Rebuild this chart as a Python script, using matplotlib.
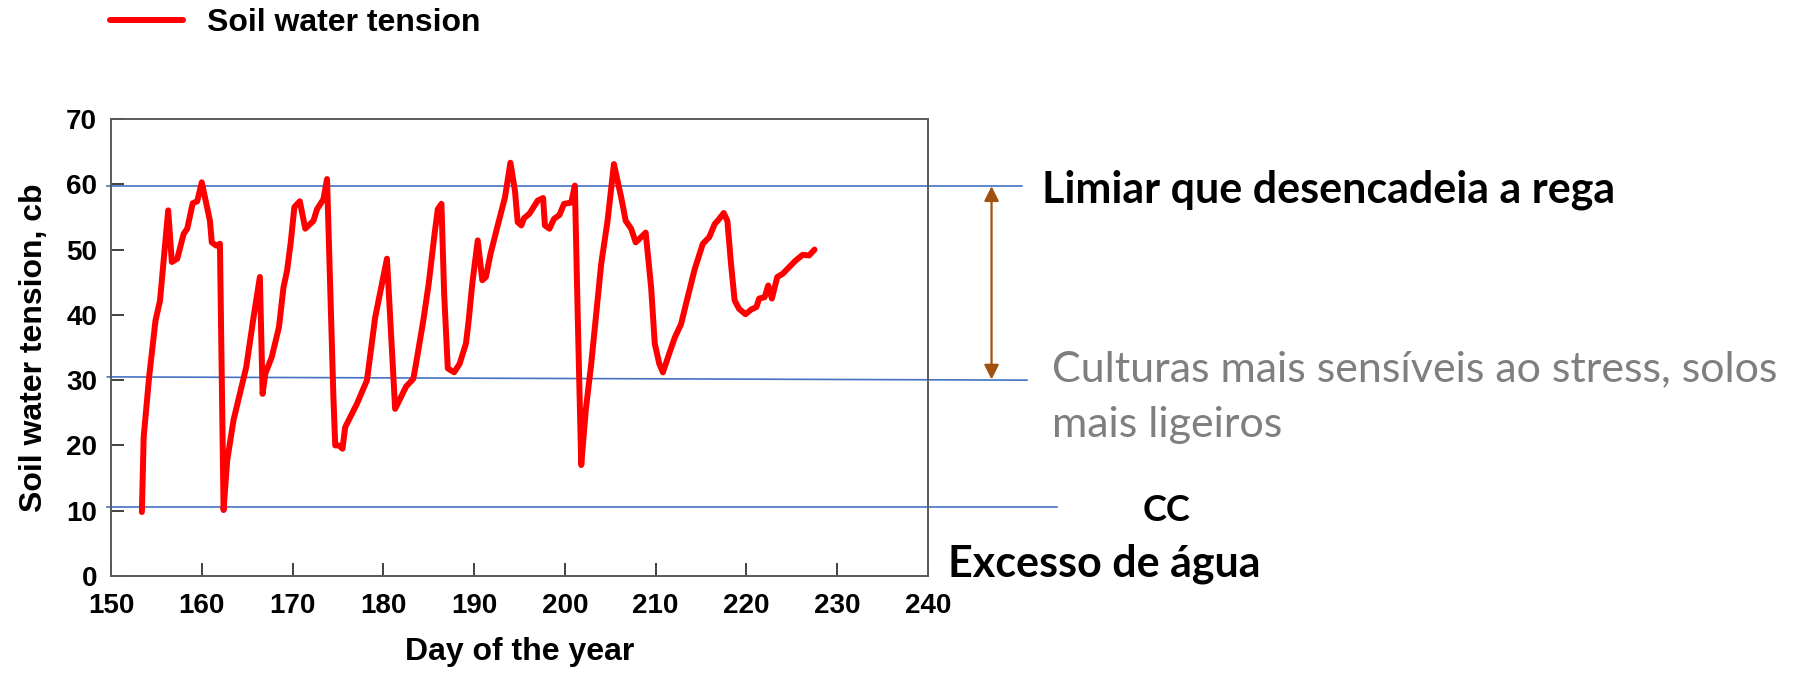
import matplotlib
matplotlib.use('Agg')
import matplotlib.pyplot as plt
from matplotlib.lines import Line2D

plt.rcParams['font.family'] = ['Liberation Sans', 'DejaVu Sans']

# leituras do gráfico (dia do ano, tensão em cb)
days = [153.4, 153.6, 154.2, 154.9, 155.4, 156.3, 156.7, 157.3, 158.0, 158.4,
        159.0, 159.5, 160.0, 160.9, 161.1, 161.6, 162.0, 162.4, 162.8, 163.5,
        164.9, 165.7, 166.4, 166.7, 167.0, 167.7, 168.5, 169.0, 169.4, 169.8,
        170.2, 170.8, 171.4, 172.3, 172.7, 173.4, 173.8, 174.5, 174.7, 175.1,
        175.5, 175.8, 177.1, 178.2, 179.1, 180.4, 181.3, 182.5, 183.3, 183.6,
        184.4, 185.0, 185.6, 186.0, 186.4, 186.7, 187.1, 187.8, 188.4, 189.1,
        189.4, 189.8, 190.4, 190.9, 191.3, 191.8, 192.6, 193.4, 194.0, 194.5,
        194.8, 195.2, 195.5, 196.1, 197.0, 197.6, 197.8, 198.3, 198.8, 199.4,
        199.9, 200.7, 201.1, 201.4, 201.8, 202.3, 202.9, 204.0, 204.7, 205.4,
        206.2, 206.7, 207.3, 207.8, 208.4, 208.9, 209.5, 209.9, 210.4, 210.8,
        211.5, 212.1, 212.8, 213.4, 214.3, 215.2, 215.9, 216.5, 217.0, 217.5,
        217.9, 218.3, 218.7, 219.2, 219.9, 220.5, 221.1, 221.4, 222.0, 222.4,
        222.8, 223.4, 224.0, 224.7, 225.4, 226.2, 226.9, 227.5]
tension = [9.8, 21.3, 30.5, 39.1, 42.2, 56.0, 48.1, 48.6, 52.4, 53.2,
           57.1, 57.4, 60.3, 54.4, 51.1, 50.6, 50.9, 10.1, 17.7, 23.9,
           32.0, 39.6, 45.8, 27.9, 31.0, 33.5, 38.1, 44.2, 46.8, 51.1,
           56.5, 57.4, 53.2, 54.4, 56.2, 57.7, 60.8, 27.4, 20.0, 20.0,
           19.5, 22.8, 26.4, 30.0, 39.6, 48.6, 25.6, 29.0, 30.2, 32.5,
           39.1, 44.8, 51.9, 56.2, 57.0, 43.2, 31.8, 31.2, 32.5, 35.6,
           39.1, 44.8, 51.4, 45.3, 45.8, 49.3, 53.7, 58.0, 63.3, 59.0,
           54.2, 53.7, 54.8, 55.5, 57.5, 57.9, 53.7, 53.2, 54.7, 55.3,
           57.0, 57.2, 59.8, 40.7, 17.0, 25.4, 32.5, 47.8, 54.4, 63.1,
           58.0, 54.4, 53.2, 51.1, 51.9, 52.6, 44.2, 35.6, 32.5, 31.2,
           34.1, 36.5, 38.6, 42.0, 47.0, 50.9, 51.9, 53.9, 54.7, 55.6,
           54.4, 47.8, 42.2, 40.9, 40.1, 40.8, 41.2, 42.5, 42.7, 44.5,
           42.5, 45.8, 46.3, 47.3, 48.3, 49.2, 49.1, 50.0]

# linhas de referência (valores lidos) e até onde se estendem
ref_left = [59.7, 30.5, 10.6]
ref_right = [59.7, 30.0, 10.6]
ref_end = [250.4, 250.9, 254.2]

fig = plt.figure(figsize=(18.09, 6.82), dpi=100)
ax = fig.add_axes([111 / 1809, 1 - 576 / 682, 817 / 1809, 457 / 682])

ax.plot(days, tension, color='#FF0000', lw=4.3, solid_joinstyle='round',
        solid_capstyle='round', zorder=3)

for yl, yr, xe in zip(ref_left, ref_right, ref_end):
    ax.plot([149.6, xe], [yl, yr], color='#4472C4', lw=1.2, clip_on=False, zorder=2)

# seta entre limiar e culturas sensíveis
ax.annotate('', xy=(247.0, 59.7), xytext=(247.0, 30.1), annotation_clip=False,
            arrowprops=dict(arrowstyle='<|-|>', color='#A0500F', lw=1.6,
                            mutation_scale=22, shrinkA=0, shrinkB=0))

ax.set_xlim(150, 240)
ax.set_ylim(0, 70)
ax.set_xticks(range(150, 241, 10))
ax.set_yticks(range(0, 71, 10))
ax.tick_params(axis='both', direction='in', length=9.5, width=1.3, color='#333333',
               labelsize=20)
ax.tick_params(axis='x', pad=12)
ax.tick_params(axis='y', pad=10)
for lab in ax.get_xticklabels() + ax.get_yticklabels():
    lab.set_fontweight('bold')
for s in ax.spines.values():
    s.set_color('#5a5a5a')
    s.set_linewidth(1.4)

ax.set_xlabel('Day of the year', fontsize=23, fontweight='bold', labelpad=13)
ax.set_ylabel('Soil water tension, cb', fontsize=23, fontweight='bold', labelpad=12)

leg_handle = [Line2D([0], [0], color='#FF0000', lw=4.3, solid_capstyle='round')]
fig.legend(leg_handle, ['Soil water tension'], loc='center left',
           bbox_to_anchor=(110 / 1809, 1 - 23 / 682), frameon=False,
           borderpad=0, borderaxespad=0, handlelength=2.3, handletextpad=0.75,
           prop={'family': 'Liberation Sans', 'weight': 'bold', 'size': 23})

lato = ['Lato', 'DejaVu Sans']
fig.text(1042 / 1809, 1 - 203 / 682, 'Limiar que desencadeia a rega', family=lato,
         fontsize=31, fontweight='bold', color='black', va='baseline', ha='left')
fig.text(1052 / 1809, 1 - 381 / 682, 'Culturas mais sensíveis ao stress, solos',
         family=lato, fontsize=31, color='#7F7F7F', va='baseline', ha='left')
fig.text(1052 / 1809, 1 - 437 / 682, 'mais ligeiros',
         family=lato, fontsize=31, color='#7F7F7F', va='baseline', ha='left')
fig.text(1166 / 1809, 1 - 521 / 682, 'CC', family=lato, fontsize=26,
         fontweight='bold', color='black', va='baseline', ha='center')
fig.text(948 / 1809, 1 - 577 / 682, 'Excesso de água', family=lato, fontsize=31,
         fontweight='bold', color='black', va='baseline', ha='left')

fig.savefig('out.png', dpi=100)
